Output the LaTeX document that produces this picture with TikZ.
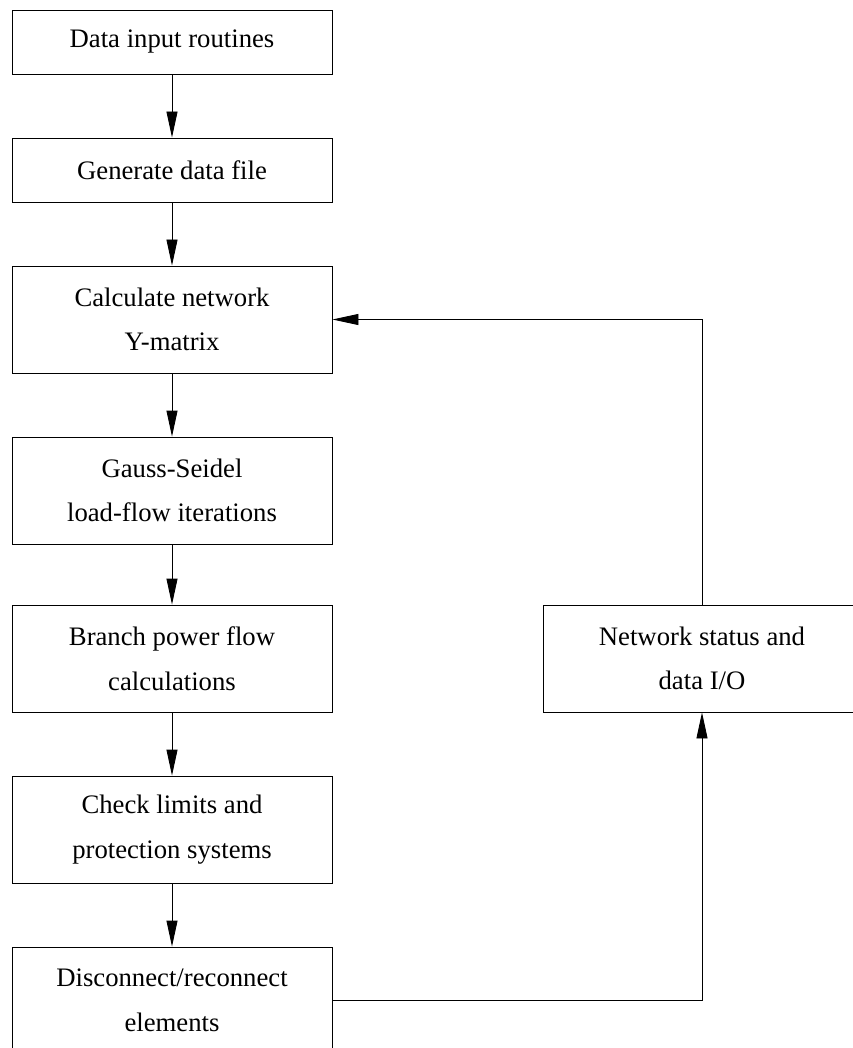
\documentclass[tikz,border=0pt]{standalone}
\usepackage{fontspec}
\setmainfont{Liberation Serif}
\usetikzlibrary{arrows.meta}
\begin{document}
\begin{tikzpicture}[x=1pt,y=-1pt,
  procbox/.style={draw, line width=0.9pt, inner sep=0pt, align=center,
    minimum width=320pt, font=\fontsize{26.7pt}{44.5pt}\selectfont},
  onerow/.style={procbox, minimum height=64pt},
  tworow/.style={procbox, minimum height=107pt},
  flow/.style={line width=0.9pt, -{Triangle[length=26pt,width=11pt]}}
]
\useasboundingbox (0,0) rectangle (852,1048);

% main chain of processing steps
\node[onerow] (input) at (172,42) {Data input routines};
\node[onerow] (gen)   at (172,170) {Generate data file};
\node[tworow] (ymat)  at (172,319.5) {Calculate network\\Y-matrix};
\node[tworow] (gs)    at (172,490.5) {Gauss-Seidel\\load-flow iterations};
\node[tworow] (branch) at (172,658.5) {Branch power flow\\calculations};
\node[tworow] (check) at (172,829.5) {Check limits and\\protection systems};
\node[tworow] (disc)  at (172,1000.5) {Disconnect/reconnect\\elements};

% status box on the feedback path
\node[procbox, minimum width=318pt, minimum height=107pt] (status) at (702,658.5) {Network status and\\data I/O};

\draw[flow] (input) -- (gen);
\draw[flow] (gen) -- (ymat);
\draw[flow] (ymat) -- (gs);
\draw[flow] (gs) -- (branch);
\draw[flow] (branch) -- (check);
\draw[flow] (check) -- (disc);

% feedback loop
\draw[flow] (disc.east) -| (status.south);
\draw[flow] (status.north) |- (ymat.east);
\end{tikzpicture}
\end{document}
